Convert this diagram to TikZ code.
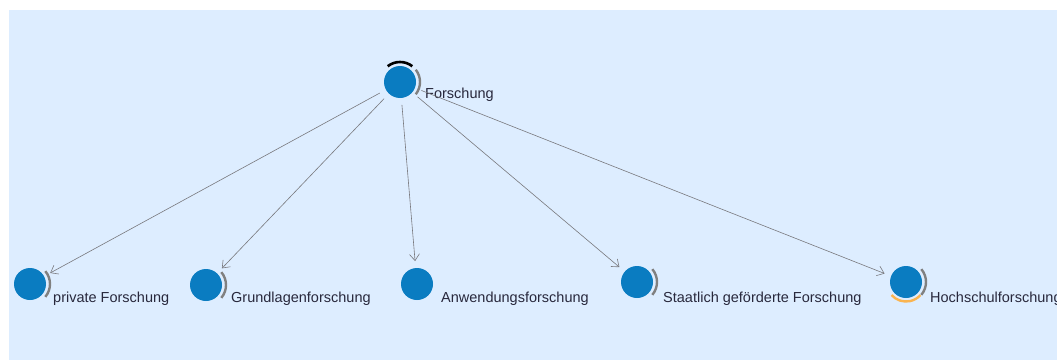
\documentclass[tikz,border=0pt]{standalone}
\usepackage{fontspec}
\setmainfont{Liberation Sans}
\usetikzlibrary{arrows.meta}
\definecolor{canvas}{RGB}{221,237,255}
\definecolor{ball}{RGB}{10,124,193}
\definecolor{edgegray}{RGB}{120,120,125}
\definecolor{ringgray}{RGB}{128,128,128}
\definecolor{ringorange}{RGB}{250,180,80}
\definecolor{labeltext}{RGB}{40,40,60}
\begin{document}
\begin{tikzpicture}[x=1pt,y=1pt,
  ball/.style={circle,fill=ball,draw=none,minimum size=32pt,inner sep=0pt,outer sep=0pt},
  lbl/.style={anchor=base west,inner sep=0pt,text=labeltext,font=\fontsize{14.5}{16}\selectfont},
  link/.style={draw=edgegray,line width=0.6pt,-{Straight Barb[length=6.5pt,width=10pt]},shorten <=7pt,shorten >=7pt},
  ring/.style={line width=2.4pt,draw=ringgray},
]
% canvas
\useasboundingbox (0,0) rectangle (1057,360);
\fill[canvas] (9,0) rectangle (1057,350);

% nodes
\node[ball] (f) at (400,278) {};
\node[ball] (p) at (30,76) {};
\node[ball] (g) at (206,75) {};
\node[ball] (a) at (417,76) {};
\node[ball] (s) at (637,78) {};
\node[ball] (h) at (906,78) {};

% decoration arcs
\draw[ring] ([shift={(-38:20)}]f.center) arc[start angle=-38,end angle=38,radius=20];
\draw[line width=2.6pt,black] ([shift={(52:20)}]f.center) arc[start angle=52,end angle=128,radius=20];
\draw[ring] ([shift={(-40:20)}]p.center) arc[start angle=-40,end angle=40,radius=20];
\draw[ring] ([shift={(-40:20)}]g.center) arc[start angle=-40,end angle=40,radius=20];
\draw[ring] ([shift={(-40:20)}]s.center) arc[start angle=-40,end angle=40,radius=20];
\draw[ring] ([shift={(-40:20)}]h.center) arc[start angle=-40,end angle=40,radius=20];
\draw[line width=2.4pt,ringorange] ([shift={(222:19.5)}]h.center) arc[start angle=222,end angle=318,radius=19.5];

% labels
\node[lbl] (fl) at (425,262) {Forschung};
\node[lbl] (pl) at (53,58) {private Forschung};
\node[lbl] (gl) at (231,58) {Grundlagenforschung};
\node[lbl] (al) at (441,58) {Anwendungsforschung};
\node[lbl] (sl) at (663,58) {Staatlich geförderte Forschung};
\node[lbl] (hl) at (930,58) {Hochschulforschung};

% connectors
\draw[link] (f) -- (p);
\draw[link] (f) -- (g);
\draw[link] (f) -- (a);
\draw[link] (f) -- (s);
\draw[link] (f) -- (h);
\end{tikzpicture}
\end{document}
